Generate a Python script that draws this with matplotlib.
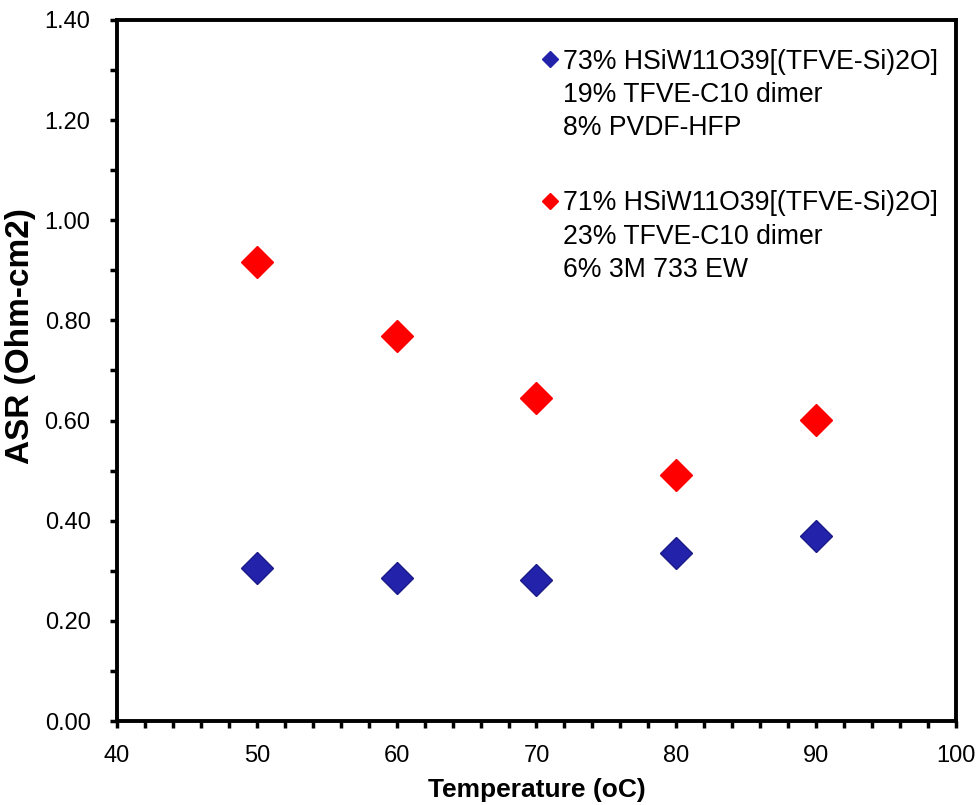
import matplotlib
matplotlib.use("Agg")
import matplotlib.pyplot as plt
from matplotlib.lines import Line2D
from matplotlib.ticker import MultipleLocator, FormatStrFormatter

plt.rcParams['font.family'] = ['Liberation Sans', 'DejaVu Sans']

temps = [50, 60, 70, 80, 90]
asr_pvdf = [0.305, 0.286, 0.282, 0.335, 0.370]
asr_3m = [0.917, 0.769, 0.645, 0.491, 0.601]

label_pvdf = ["73% HSiW11O39[(TFVE-Si)2O]", "19% TFVE-C10 dimer", "8% PVDF-HFP"]
label_3m = ["71% HSiW11O39[(TFVE-Si)2O]", "23% TFVE-C10 dimer", "6% 3M 733 EW"]

blue = '#2222AA'
red = '#FF0000'

fig = plt.figure(figsize=(9.78, 8.05), dpi=100)
L, R, T, B = 117, 956, 20, 721
ax = fig.add_axes([L/978, 1-B/805, (R-L)/978, (B-T)/805])

ax.plot(temps, asr_pvdf, linestyle='none', marker='D', markersize=16.5,
        markerfacecolor=blue, markeredgecolor='#1A1A88', markeredgewidth=1)
ax.plot(temps, asr_3m, linestyle='none', marker='D', markersize=16.5,
        markerfacecolor=red, markeredgecolor=red, markeredgewidth=1)

ax.set_xlim(40, 100)
ax.set_ylim(0, 1.4)
ax.xaxis.set_major_locator(MultipleLocator(10))
ax.xaxis.set_minor_locator(MultipleLocator(2))
ax.yaxis.set_major_locator(MultipleLocator(0.2))
ax.yaxis.set_minor_locator(MultipleLocator(0.1))
ax.yaxis.set_major_formatter(FormatStrFormatter('%.2f'))

for s in ax.spines.values():
    s.set_linewidth(2.8)
ax.tick_params(which='both', direction='out', length=5, width=2.5, labelsize=17)
ax.tick_params(axis='y', which='both', pad=14)
ax.tick_params(axis='x', which='both', pad=12)

ax.set_xlabel('Temperature (oC)', fontsize=19, fontweight='bold', labelpad=8)
ax.set_ylabel('ASR (Ohm-cm2)', fontsize=24, fontweight='bold')
ax.yaxis.set_label_coords((36 - L) / (R - L), (B - 336) / (B - T))

blank = Line2D([], [], linestyle='none', marker=None)
hb = Line2D([], [], linestyle='none', marker='D', markersize=8,
            markerfacecolor=blue, markeredgecolor=blue)
hr = Line2D([], [], linestyle='none', marker='D', markersize=8,
            markerfacecolor=red, markeredgecolor=red)
handles = [hb, blank, blank, blank, hr, blank, blank]
labels = [label_pvdf[0], label_pvdf[1], label_pvdf[2], " ",
          label_3m[0], label_3m[1], label_3m[2]]
leg = ax.legend(handles, labels, loc='upper right', bbox_to_anchor=(0.998, 0.982),
                frameon=False, fontsize=19.2, handlelength=0.6, handletextpad=0.2,
                labelspacing=0.27, borderaxespad=0.2)
leg.get_texts()[3].set_fontsize(26)

fig.savefig('out.png', dpi=100)
